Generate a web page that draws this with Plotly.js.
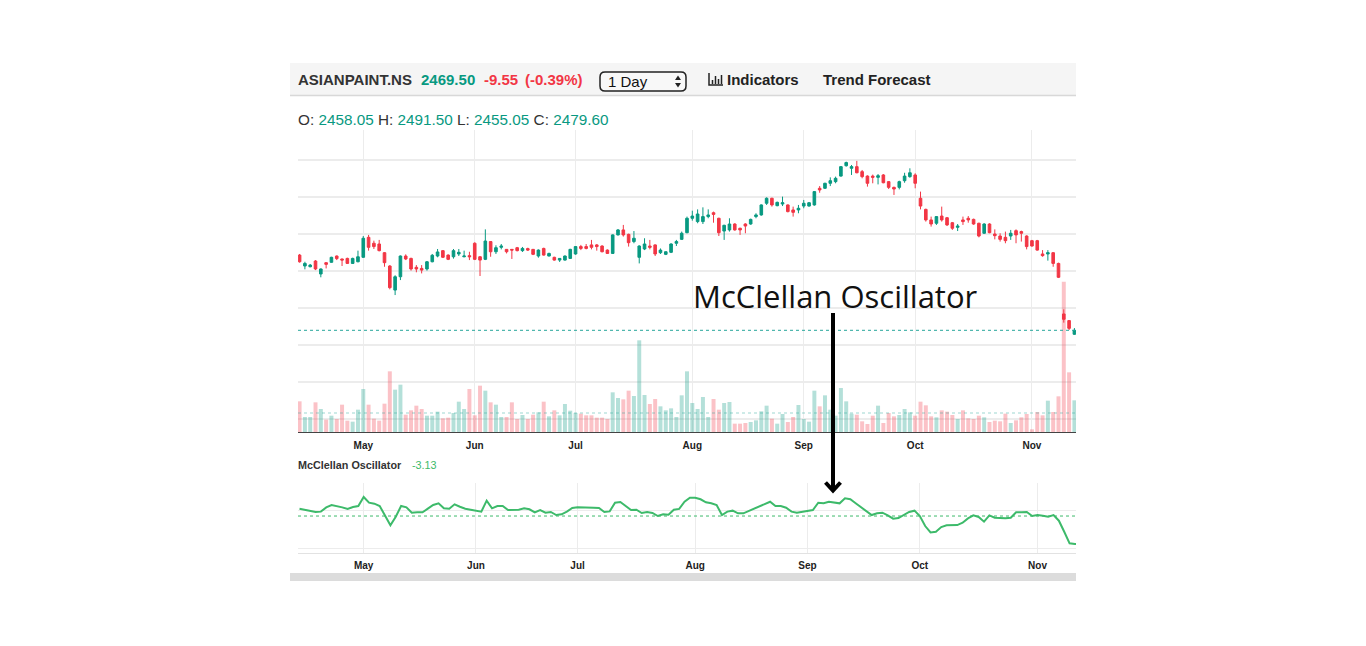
<!DOCTYPE html>
<html>
<head>
<meta charset="utf-8">
<script src="https://cdn.plot.ly/plotly-3.0.1.min.js"></script>
<style>
  html, body { margin: 0; padding: 0; background: #ffffff; }
  #plot { width: 1366px; height: 646px; }
</style>
</head>
<body>
<div id="plot"></div>
<script>
// trading days shown on the chart (2024)
var aprDays = [12, 15, 16, 18, 19, 22, 23, 24, 25, 26, 29, 30];
var mayDays = [2, 3, 6, 7, 8, 9, 10, 13, 14, 15, 16, 17, 21, 22, 23, 24, 27, 28, 29, 30, 31];
var junDays = [3, 4, 5, 6, 7, 10, 11, 12, 13, 14, 18, 19, 20, 21, 24, 25, 26, 27, 28];
var julDays = [1, 2, 3, 4, 5, 8, 9, 10, 11, 12, 15, 16, 18, 19, 22, 23, 24, 25, 26, 29, 30, 31];
var augDays = [1, 2, 5, 6, 7, 8, 9, 12, 13, 14, 16, 19, 20, 21, 22, 23, 26, 27, 28, 29, 30];
var sepDays = [2, 3, 4, 5, 6, 9, 10, 11, 12, 13, 16, 17, 18, 19, 20, 23, 24, 25, 26, 27, 30];
var octDays = [1, 3, 4, 7, 8, 9, 10, 11, 14, 15, 16, 17, 18, 21, 22, 23, 24, 25, 28, 29, 30, 31];
var novDays = [1, 4, 5, 6, 7, 8, 11, 12, 13];

var monthNames = ['May', 'Jun', 'Jul', 'Aug', 'Sep', 'Oct', 'Nov'];

var opens = [
  2886, 2827, 2823, 2854, 2784, 2845, 2847, 2881, 2865, 2868,
  2841, 2850, 2874, 2982, 2950, 2946, 2899, 2827, 2697, 2769,
  2881, 2868, 2820, 2814, 2811, 2850, 2881, 2910, 2886, 2877,
  2892, 2877, 2883, 2950, 2877, 2863, 2959, 2904, 2928, 2917,
  2917, 2926, 2910, 2921, 2917, 2881, 2922, 2881, 2874, 2859,
  2859, 2868, 2892, 2932, 2932, 2941, 2941, 2935, 2913, 2895,
  2995, 3022, 2998, 2959, 2874, 2919, 2935, 2941, 2899, 2890,
  2901, 2950, 2971, 3007, 3085, 3067, 3067, 3094, 3115, 3085,
  3016, 3022, 3054, 3031, 3054, 3054, 3094, 3103, 3166, 3193,
  3153, 3162, 3157, 3130, 3130, 3151, 3151, 3157, 3247, 3247,
  3274, 3283, 3313, 3369, 3355, 3364, 3337, 3313, 3313, 3306,
  3319, 3283, 3252, 3252, 3288, 3310, 3319, 3193, 3133, 3076,
  3058, 3097, 3088, 3061, 3036, 3076, 3085, 3079, 3058, 3004,
  3054, 3000, 2989, 2982, 2989, 3018, 3013, 2989, 2964, 2964,
  2892, 2892, 2899, 2841, 2568, 2532, 2458.05
];
var highs = [
  2892, 2850, 2838, 2859, 2814, 2847, 2877, 2884, 2867, 2872,
  2872, 2910, 2989, 2995, 2964, 2968, 2902, 2832, 2777, 2884,
  2890, 2872, 2832, 2832, 2854, 2892, 2919, 2913, 2890, 2919,
  2919, 2910, 2904, 2955, 2881, 3025, 2962, 2939, 2946, 2919,
  2919, 2930, 2930, 2926, 2919, 2917, 2926, 2899, 2877, 2870,
  2884, 2920, 2935, 2941, 2946, 2968, 2946, 2939, 2917, 2998,
  3027, 3049, 3002, 3016, 2939, 2977, 2968, 2944, 2922, 2906,
  2950, 2968, 3013, 3094, 3126, 3133, 3144, 3133, 3121, 3088,
  3050, 3085, 3058, 3034, 3058, 3083, 3112, 3160, 3198, 3196,
  3175, 3202, 3160, 3148, 3157, 3184, 3173, 3232, 3259, 3277,
  3306, 3310, 3367, 3391, 3373, 3395, 3346, 3317, 3321, 3324,
  3324, 3286, 3256, 3288, 3331, 3355, 3328, 3229, 3137, 3094,
  3097, 3148, 3092, 3065, 3054, 3094, 3097, 3083, 3061, 3058,
  3058, 3025, 3004, 3013, 3022, 3025, 3018, 2993, 2968, 2968,
  2913, 2913, 2902, 2845, 2593, 2535, 2491.5
];
var lows = [
  2845, 2809, 2820, 2805, 2766, 2814, 2845, 2859, 2827, 2838,
  2838, 2847, 2872, 2910, 2919, 2906, 2823, 2701, 2670, 2751,
  2859, 2802, 2793, 2787, 2802, 2847, 2874, 2870, 2859, 2867,
  2881, 2874, 2859, 2859, 2773, 2859, 2877, 2892, 2917, 2895,
  2865, 2906, 2903, 2908, 2886, 2872, 2883, 2879, 2856, 2849,
  2856, 2865, 2888, 2913, 2917, 2917, 2910, 2901, 2892, 2892,
  2992, 2986, 2932, 2950, 2841, 2913, 2917, 2881, 2892, 2886,
  2897, 2935, 2968, 3004, 3072, 3058, 3054, 3085, 3061, 2989,
  2968, 3013, 3018, 2995, 3004, 3050, 3085, 3099, 3157, 3148,
  3150, 3151, 3117, 3094, 3112, 3139, 3148, 3153, 3223, 3243,
  3259, 3274, 3310, 3364, 3319, 3328, 3301, 3256, 3274, 3268,
  3274, 3243, 3211, 3241, 3277, 3304, 3247, 3133, 3067, 3040,
  3049, 3067, 3043, 3022, 3016, 3049, 3061, 3050, 2982, 3000,
  3004, 2971, 2959, 2950, 2968, 2950, 2959, 2917, 2932, 2910,
  2877, 2856, 2823, 2762, 2521, 2481, 2455.05
];
var closes = [
  2850, 2841, 2832, 2811, 2811, 2836, 2874, 2867, 2859, 2841,
  2868, 2877, 2977, 2928, 2932, 2910, 2845, 2710, 2769, 2881,
  2865, 2811, 2811, 2805, 2850, 2885, 2903, 2874, 2863, 2910,
  2901, 2881, 2877, 2863, 2859, 2962, 2904, 2926, 2935, 2904,
  2913, 2910, 2922, 2913, 2890, 2913, 2886, 2895, 2859, 2868,
  2881, 2917, 2932, 2922, 2922, 2928, 2932, 2904, 2895, 2995,
  3022, 2995, 2953, 2977, 2935, 2946, 2928, 2892, 2913, 2904,
  2946, 2959, 3004, 3085, 3097, 3108, 3094, 3103, 3106, 3007,
  3047, 3054, 3022, 3022, 3043, 3079, 3103, 3157, 3193, 3157,
  3171, 3169, 3121, 3117, 3139, 3166, 3169, 3229, 3238, 3274,
  3288, 3301, 3364, 3386, 3364, 3331, 3310, 3274, 3306, 3315,
  3277, 3252, 3243, 3283, 3313, 3331, 3274, 3151, 3076, 3054,
  3094, 3076, 3049, 3031, 3043, 3067, 3076, 3054, 2989, 3054,
  3007, 2991, 2971, 2964, 3004, 2995, 3004, 2932, 2935, 2913,
  2883, 2899, 2841, 2766, 2539, 2490, 2479.6
];
// volume, millions of shares
var volumes = [
  1.84, 0.90, 0.90, 1.78, 1.38, 0.74, 0.98, 0.78, 1.64, 0.68,
  0.62, 1.34, 2.58, 1.64, 0.80, 0.68, 1.70, 3.64, 2.54, 2.84,
  1.04, 1.30, 1.58, 1.38, 0.98, 0.98, 1.22, 0.82, 0.86, 1.14,
  1.82, 1.38, 2.58, 1.00, 2.78, 2.48, 1.78, 1.64, 0.90, 0.90,
  1.78, 0.78, 1.02, 0.78, 1.04, 1.18, 1.82, 0.94, 1.30, 1.00,
  1.68, 1.28, 1.14, 1.10, 1.00, 1.00, 0.86, 0.86, 0.78, 2.38,
  2.04, 1.96, 2.48, 2.16, 5.50, 2.22, 1.68, 1.98, 1.54, 1.30,
  1.42, 0.90, 2.20, 3.64, 1.74, 1.38, 2.10, 0.90, 1.98, 1.34,
  1.74, 1.80, 0.50, 0.50, 0.54, 0.60, 0.70, 1.24, 1.58, 0.80,
  0.50, 1.08, 0.60, 0.90, 1.62, 0.78, 0.62, 2.48, 1.54, 2.20,
  1.34, 0.98, 2.64, 1.84, 1.10, 1.04, 0.64, 0.48, 0.98, 1.58,
  0.54, 1.14, 0.94, 1.02, 1.38, 1.18, 0.98, 1.82, 1.60, 0.94,
  0.88, 1.30, 1.22, 1.02, 0.78, 1.30, 0.82, 0.78, 0.98, 0.88,
  0.60, 0.68, 0.64, 1.10, 0.54, 0.70, 0.88, 1.08, 0.16, 1.20,
  1.00, 1.88, 1.20, 2.14, 9.02, 3.58, 1.90
];
var volumeAverage = 1.14;

var mcclellan = [
  0.82, 0.71, 0.60, 0.45, 0.49, 0.97, 1.23, 1.12, 0.97, 0.78,
  1.01, 1.12, 2.13, 1.49, 1.38, 1.12, 0.11, -1.04, -0.07, 1.12,
  0.97, 0.37, 0.41, 0.41, 0.82, 1.23, 1.42, 0.86, 0.82, 1.31,
  1.04, 0.82, 0.71, 0.60, 0.49, 1.72, 0.86, 1.12, 1.12, 0.67,
  0.67, 0.71, 0.86, 0.75, 0.41, 0.67, 0.37, 0.45, 0.11, 0.19,
  0.49, 0.90, 0.97, 0.93, 0.97, 0.93, 0.90, 0.45, 0.52, 1.49,
  1.57, 1.12, 0.67, 0.71, 0.34, 0.45, 0.34, 0.00, 0.19, 0.15,
  0.71, 0.80, 1.60, 2.05, 2.05, 1.87, 1.53, 1.42, 1.23, 0.11,
  0.49, 0.60, 0.30, 0.30, 0.56, 0.78, 1.04, 1.38, 1.60, 1.12,
  1.12, 0.93, 0.49, 0.37, 0.49, 0.63, 0.67, 1.49, 1.42, 1.60,
  1.49, 1.42, 1.98, 1.87, 1.42, 0.97, 0.56, 0.11, 0.30, 0.37,
  0.07, -0.30, -0.22, 0.11, 0.45, 0.60, 0.00, -1.12, -1.83, -1.75,
  -1.23, -1.04, -1.04, -1.01, -0.75, -0.26, 0.07, -0.11, -0.63, 0.07,
  -0.19, -0.26, -0.26, -0.19, 0.41, 0.41, 0.45, 0.00, 0.11, 0.04,
  -0.07, 0.11, -0.52, -1.75, -3.05, -3.12, -3.13
];

function pad(d) { return d < 10 ? '0' + d : '' + d; }
var dates = [];
var monthTicks = [];
[['04', aprDays], ['05', mayDays], ['06', junDays], ['07', julDays],
 ['08', augDays], ['09', sepDays], ['10', octDays], ['11', novDays]].forEach(function (m, k) {
  m[1].forEach(function (d, j) {
    var s = '2024-' + m[0] + '-' + pad(d);
    dates.push(s);
    if (j === 0 && k > 0) monthTicks.push(s);
  });
});

var GREEN = '#089981', RED = '#f23645', OSC = '#3dba6a';
var volColors = closes.map(function (c, i) {
  return c >= opens[i] ? 'rgba(8,153,129,0.3)' : 'rgba(242,54,69,0.3)';
});
var lastClose = closes[closes.length - 1];

// page pixel -> paper fraction
function PX(x) { return x / 1366; }
function PY(y) { return 1 - y / 646; }

var volume = {
  type: 'bar', x: dates, y: volumes, xaxis: 'x', yaxis: 'y',
  marker: { color: volColors, line: { width: 0 } }, hoverinfo: 'skip'
};
var candles = {
  type: 'candlestick', x: dates, open: opens, high: highs, low: lows, close: closes,
  xaxis: 'x', yaxis: 'y2', whiskerwidth: 0, hoverinfo: 'skip',
  increasing: { line: { color: GREEN, width: 1 }, fillcolor: GREEN },
  decreasing: { line: { color: RED, width: 1 }, fillcolor: RED }
};
var oscillator = {
  type: 'scatter', mode: 'lines', x: dates, y: mcclellan, xaxis: 'x2', yaxis: 'y3',
  line: { color: OSC, width: 2 }, hoverinfo: 'skip'
};

function rrect(x0, y0, x1, y1, r) {
  return 'M' + PX(x0 + r) + ',' + PY(y0) + ' L' + PX(x1 - r) + ',' + PY(y0) +
    ' Q' + PX(x1) + ',' + PY(y0) + ' ' + PX(x1) + ',' + PY(y0 + r) +
    ' L' + PX(x1) + ',' + PY(y1 - r) +
    ' Q' + PX(x1) + ',' + PY(y1) + ' ' + PX(x1 - r) + ',' + PY(y1) +
    ' L' + PX(x0 + r) + ',' + PY(y1) +
    ' Q' + PX(x0) + ',' + PY(y1) + ' ' + PX(x0) + ',' + PY(y1 - r) +
    ' L' + PX(x0) + ',' + PY(y0 + r) +
    ' Q' + PX(x0) + ',' + PY(y0) + ' ' + PX(x0 + r) + ',' + PY(y0) + ' Z';
}
function poly(pts, close) {
  return pts.map(function (p, i) { return (i ? 'L' : 'M') + PX(p[0]) + ',' + PY(p[1]); }).join(' ') + (close ? ' Z' : '');
}

var shapes = [
  // toolbar
  { type: 'rect', xref: 'paper', yref: 'paper', x0: PX(290), x1: PX(1076), y0: PY(95), y1: PY(63),
    fillcolor: '#f5f5f5', line: { width: 0 }, layer: 'below' },
  { type: 'line', xref: 'paper', yref: 'paper', x0: PX(290), x1: PX(1076), y0: PY(95.5), y1: PY(95.5),
    line: { color: '#d8d8d8', width: 1.5 } },
  { type: 'path', xref: 'paper', yref: 'paper', path: rrect(600, 72, 686, 91, 5),
    fillcolor: '#f8f8f8', line: { color: '#222', width: 1.5 } },
  { type: 'path', xref: 'paper', yref: 'paper', path: poly([[675, 80], [681, 80], [678, 75.5]], true),
    fillcolor: '#222', line: { width: 0 } },
  { type: 'path', xref: 'paper', yref: 'paper', path: poly([[675, 83], [681, 83], [678, 87.5]], true),
    fillcolor: '#222', line: { width: 0 } },
  // indicators icon
  { type: 'path', xref: 'paper', yref: 'paper', path: poly([[709, 73], [709, 85], [723, 85]], false),
    line: { color: '#222', width: 1.5 } },
  { type: 'line', xref: 'paper', yref: 'paper', x0: PX(712.5), x1: PX(712.5), y0: PY(84), y1: PY(80), line: { color: '#222', width: 1.5 } },
  { type: 'line', xref: 'paper', yref: 'paper', x0: PX(715.5), x1: PX(715.5), y0: PY(84), y1: PY(76), line: { color: '#222', width: 1.5 } },
  { type: 'line', xref: 'paper', yref: 'paper', x0: PX(718.5), x1: PX(718.5), y0: PY(84), y1: PY(79), line: { color: '#222', width: 1.5 } },
  { type: 'line', xref: 'paper', yref: 'paper', x0: PX(721.5), x1: PX(721.5), y0: PY(84), y1: PY(75), line: { color: '#222', width: 1.5 } },
  // last price and volume average lines
  { type: 'line', xref: 'paper', yref: 'y2', x0: PX(298), x1: PX(1076), y0: lastClose, y1: lastClose,
    line: { color: '#26a69a', width: 1, dash: 'dot' } },
  { type: 'line', xref: 'paper', yref: 'y', x0: PX(298), x1: PX(1076), y0: volumeAverage, y1: volumeAverage,
    line: { color: 'rgba(38,166,154,0.45)', width: 1, dash: 'dot' } },
  // oscillator zero line
  { type: 'line', xref: 'paper', yref: 'y3', x0: PX(298), x1: PX(1076), y0: 0, y1: 0,
    line: { color: OSC, width: 1, dash: 'dot' } },
  // bottom scroll bar
  { type: 'rect', xref: 'paper', yref: 'paper', x0: PX(290), x1: PX(1076), y0: PY(581), y1: PY(573),
    fillcolor: '#dcdcdc', line: { width: 0 } },
  // callout arrow
  { type: 'line', xref: 'paper', yref: 'paper', x0: PX(833), x1: PX(833), y0: PY(313), y1: PY(490),
    line: { color: '#000', width: 4 } },
  { type: 'path', xref: 'paper', yref: 'paper', path: poly([[825.5, 482.5], [833, 490.5], [840.5, 482.5]], false),
    line: { color: '#000', width: 4 } }
];

var FONT = 'Liberation Sans, Arial, sans-serif';
function label(x, y, text, size, color, family) {
  return { xref: 'paper', yref: 'paper', x: PX(x), y: PY(y), xanchor: 'left', yanchor: 'middle',
    text: text, showarrow: false, font: { family: family || FONT, size: size, color: color } };
}
var annotations = [
  label(296, 80, '<b>ASIANPAINT.NS</b>', 15, '#333'),
  label(419, 80, '<b>2469.50</b>', 15, GREEN),
  label(482, 80, '<b>-9.55</b>', 15, RED),
  label(523, 80, '<b>(-0.39%)</b>', 15, RED),
  label(606, 81, '1 Day', 15, '#111'),
  label(725, 80, '<b>Indicators</b>', 15, '#222'),
  label(821, 80, '<b>Trend Forecast</b>', 15, '#222'),
  label(296, 119, 'O: <span style="color:' + GREEN + '">2458.05</span> H: <span style="color:' + GREEN +
    '">2491.50</span> L: <span style="color:' + GREEN + '">2455.05</span> C: <span style="color:' + GREEN +
    '">2479.60</span>', 15.3, '#333'),
  label(296, 465, '<b>McClellan Oscillator</b>', 10.8, '#333'),
  label(410, 465, '-3.13', 10.8, OSC),
  label(691, 296, 'McClellan Oscillator', 31, '#111', 'Open Sans, sans-serif')
];

var tickFont = { family: FONT, size: 10, color: '#222', weight: 'bold' };
var xDomain = [PX(298), PX(1076)];

var layout = {
  width: 1366, height: 646,
  margin: { l: 0, r: 0, t: 0, b: 0 },
  paper_bgcolor: '#ffffff', plot_bgcolor: 'rgba(0,0,0,0)',
  showlegend: false, hovermode: false, bargap: 0.25,
  xaxis: {
    domain: xDomain, anchor: 'y', type: 'category', range: [-0.3, 146.3],
    tickvals: monthTicks, ticktext: monthNames, tickfont: tickFont,
    ticks: 'outside', ticklen: 4, tickcolor: 'rgba(0,0,0,0)',
    showgrid: true, gridcolor: '#ececec', gridwidth: 1,
    showline: true, linecolor: '#444', linewidth: 1, zeroline: false,
    rangeslider: { visible: false }, fixedrange: true
  },
  yaxis: {
    domain: [PY(432), PY(130)], range: [0, 18.12],
    showgrid: false, showticklabels: false, zeroline: false, fixedrange: true
  },
  yaxis2: {
    overlaying: 'y', anchor: 'x', side: 'right', range: [1930, 3562], tick0: 0, dtick: 200,
    showgrid: true, gridcolor: '#ececec', gridwidth: 1.5,
    showticklabels: false, ticks: '', zeroline: false, fixedrange: true
  },
  xaxis2: {
    domain: xDomain, anchor: 'y3', type: 'category', range: [-0.28, 145.2],
    tickvals: monthTicks, ticktext: monthNames, tickfont: tickFont,
    ticks: 'outside', ticklen: 3, tickcolor: 'rgba(0,0,0,0)',
    showgrid: true, gridcolor: '#ececec', gridwidth: 1,
    showline: true, linecolor: '#e2e2e2', linewidth: 1, zeroline: false,
    rangeslider: { visible: false }, fixedrange: true
  },
  yaxis3: {
    domain: [PY(553), PY(483)], range: [-4.13, 3.69], tickvals: [-3.58, 0.67],
    showgrid: true, gridcolor: '#ececec', showticklabels: false, zeroline: false, fixedrange: true
  },
  shapes: shapes,
  annotations: annotations
};

Plotly.newPlot('plot', [volume, candles, oscillator], layout, { staticPlot: true, displayModeBar: false });
</script>
</body>
</html>
